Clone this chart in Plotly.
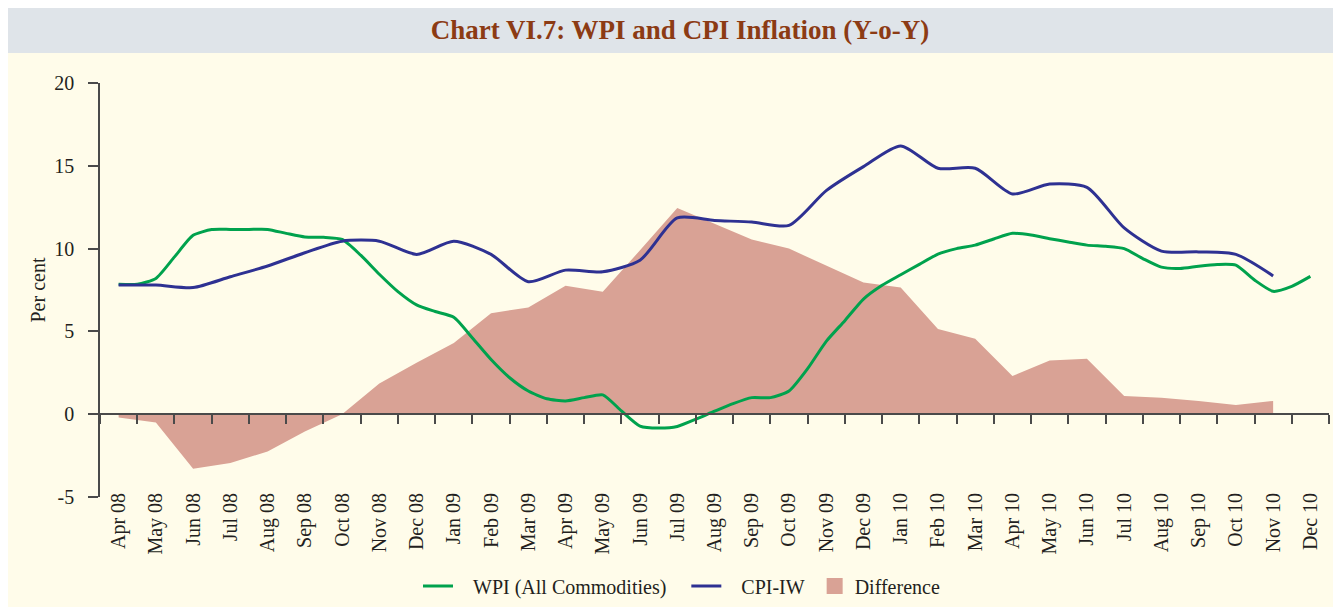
import numpy as np
import plotly.graph_objects as go

# ---------------- data ----------------
months = ["Apr 08", "May 08", "Jun 08", "Jul 08", "Aug 08", "Sep 08", "Oct 08", "Nov 08",
          "Dec 08", "Jan 09", "Feb 09", "Mar 09", "Apr 09", "May 09", "Jun 09", "Jul 09",
          "Aug 09", "Sep 09", "Oct 09", "Nov 09", "Dec 09", "Jan 10", "Feb 10", "Mar 10",
          "Apr 10", "May 10", "Jun 10", "Jul 10", "Aug 10", "Sep 10", "Oct 10", "Nov 10",
          "Dec 10"]

# CPI-IW, monthly (Apr 08 - Nov 10)
cpi_iw = [7.8, 7.8, 7.65, 8.3, 8.95, 9.75, 10.45, 10.45, 9.65, 10.45, 9.65, 8.0,
          8.7, 8.6, 9.3, 11.85, 11.7, 11.6, 11.4, 13.5, 14.95, 16.2, 14.85, 14.85,
          13.3, 13.9, 13.7, 11.25, 9.85, 9.8, 9.65, 8.35]

# Difference (CPI-IW minus WPI), monthly (Apr 08 - Nov 10)
difference = [-0.2, -0.5, -3.3, -2.95, -2.25, -1.05, 0.0, 1.85, 3.1, 4.3, 6.1, 6.45,
              7.75, 7.4, 9.9, 12.45, 11.5, 10.55, 10.0, 8.95, 7.95, 7.65, 5.15, 4.55,
              2.3, 3.25, 3.35, 1.1, 1.0, 0.8, 0.55, 0.8]

# WPI (All Commodities), read at half-month steps (Apr 08 - Dec 10)
wpi = [7.85, 7.85, 8.2, 9.5, 10.8, 11.15, 11.16, 11.16, 11.16,
       10.92, 10.7, 10.68, 10.55, 9.6, 8.45, 7.4, 6.6, 6.2,
       5.85, 4.6, 3.3, 2.2, 1.4, 0.93, 0.8, 1.0, 1.17,
       0.2, -0.72, -0.84, -0.74, -0.3, 0.18, 0.64, 1.0, 1.0,
       1.4, 2.75, 4.4, 5.65, 6.95, 7.78, 8.42, 9.05, 9.67,
       10.0, 10.21, 10.58, 10.92, 10.82, 10.6, 10.4, 10.21, 10.14,
       10.0, 9.4, 8.88, 8.8, 8.94, 9.04, 9.0, 8.1, 7.42, 7.72, 8.32]

y_ticks = [-5, 0, 5, 10, 15, 20]
y_tick_text = ["-5", "0", "5", "10", "15", "20"]

# ---------------- styling ----------------
GREEN = "#00a24d"
BLUE = "#2e3192"
DIFF = "#d9a295"
CREAM = "#fffcea"
GREYBAND = "#dfe4e9"
TITLE = "#8c3b14"
TXT = "#231f20"
AXIS = "#4a4a4a"
FONT = "Liberation Serif"
NB = "\u00a0"

m_idx = np.arange(len(cpi_iw))
wpi_x = np.arange(len(wpi)) / 2.0

fig = go.Figure()

fig.add_trace(go.Scatter(
    x=m_idx, y=difference, mode="lines", fill="tozeroy",
    fillcolor=DIFF, line=dict(width=0, color=DIFF),
    showlegend=False, hoverinfo="skip"))

fig.add_trace(go.Scatter(
    x=wpi_x, y=wpi, mode="lines", name=NB * 3 + "WPI (All Commodities)" + NB * 3,
    line=dict(color=GREEN, width=3, shape="spline", smoothing=0.6),
    legendrank=1))

fig.add_trace(go.Scatter(
    x=m_idx, y=cpi_iw, mode="lines", name=NB * 3 + "CPI-IW" + NB,
    line=dict(color=BLUE, width=3, shape="spline", smoothing=0.7),
    legendrank=2))

# legend swatch for the area
fig.add_trace(go.Scatter(
    x=[None], y=[None], mode="markers", name="Difference",
    marker=dict(symbol="square", size=16, color=DIFF), legendrank=3))

# dummy trace to activate the zero-line axis carrying the boundary ticks
fig.add_trace(go.Scatter(
    x=[0], y=[None], xaxis="x2", yaxis="y", mode="lines",
    showlegend=False, hoverinfo="skip"))

# figure geometry (page has an 8px body margin)
W, H = 1333, 599
L, R, T, B = 92, 12, 75, 110
pw, ph = W - L - R, H - T - B
def px(xp):
    return (xp - L) / pw
def py(yp):
    return (H - B - yp) / ph

fig.update_layout(
    width=W, height=H,
    margin=dict(l=L, r=R, t=T, b=B, autoexpand=False),
    paper_bgcolor=CREAM,
    plot_bgcolor=CREAM,
    font=dict(family=FONT, size=20, color=TXT),
    title=dict(text="<b>Chart VI.7: WPI and CPI Inflation (Y-o-Y)</b>",
               font=dict(family=FONT, size=27, color=TITLE),
               x=672 / W, xanchor="center", xref="container",
               y=1 - 22 / H, yanchor="middle", yref="container"),
    shapes=[
        dict(type="rect", xref="paper", yref="paper", layer="below",
             x0=px(-5), x1=px(W + 5), y0=py(45), y1=py(-5),
             fillcolor=GREYBAND, line=dict(width=0)),
    ],
    xaxis=dict(
        range=[-0.5, len(months) - 0.5], automargin=False,
        anchor="free", position=0.022,
        tickmode="array", tickvals=list(range(len(months))), ticktext=months,
        tickangle=-90, ticks="", showline=False, showgrid=False, zeroline=False,
        tickfont=dict(size=20, color=TXT)),
    xaxis2=dict(
        overlaying="x", matches="x", anchor="free", position=0.2, side="bottom",
        automargin=False,
        tickmode="array", tickvals=list(np.arange(len(months) + 1) - 0.5),
        showticklabels=False, ticks="outside", ticklen=9, tickwidth=1.5,
        tickcolor=AXIS, showline=True, linecolor=AXIS, linewidth=1.5,
        showgrid=False, zeroline=False),
    yaxis=dict(
        range=[-5, 20], tickmode="array", tickvals=y_ticks, ticktext=y_tick_text,
        automargin=False,
        ticks="outside", ticklen=10, tickwidth=1.5, tickcolor=AXIS,
        showline=True, linecolor=AXIS, linewidth=1.5,
        showgrid=False, zeroline=False, ticklabelstandoff=10,
        tickfont=dict(size=20, color=TXT),
        title=dict(text="Per cent", font=dict(size=20, color=TXT), standoff=3)),
    legend=dict(orientation="h", x=px(673.5), xanchor="center",
                y=py(578), yanchor="middle", bgcolor="rgba(0,0,0,0)",
                font=dict(size=20, color=TXT), itemwidth=30),
    showlegend=True,
)

fig.write_html("out.html")
